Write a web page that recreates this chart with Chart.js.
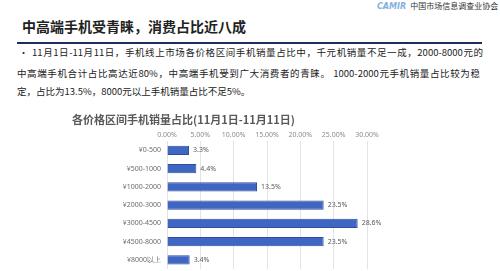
<!DOCTYPE html>
<html>
<head>
<meta charset="utf-8">
<script src="https://cdn.jsdelivr.net/npm/chart.js@4"></script>
<style>
    body { margin: 0; width: 500px; height: 271px; overflow: hidden; background: #fff; position: relative; font-family: "Noto Sans CJK SC", sans-serif; }
    .logo { position: absolute; top: 0; left: 377px; font-size: 8px; color: #333; white-space: nowrap; line-height: 12px; }
    .logo b { color: #7fb2e0; font-style: italic; font-weight: bold; margin-right: 4px; font-family: "DejaVu Sans", sans-serif; }
    .title { position: absolute; top: 16px; left: 22px; font-size: 14px; font-weight: bold; color: #222; line-height: 20px; }
    .rule { position: absolute; top: 42px; left: 17px; width: 465px; height: 2px; background: #1f2d5a; }
    .linea { position: absolute; font-size: 9.5px; line-height: 14px; color: #222; white-space: nowrap; text-align: justify; text-align-last: justify; }
    .dot { position: absolute; left: 19px; top: 46px; font-size: 9px; color: #222; }
    #miGrafico { position: absolute; left: 0; top: 108px; }
</style>
</head>
<body>
<div class="logo"><b>CAMIR</b>中国市场信息调查业协会</div>
<div class="title">中高端手机受青睐，消费占比近八成</div>
<div class="rule"></div>
<div class="dot">•</div>
<div class="linea" style="left:32px; top:45px; width:451px;">11月1日-11月11日，手机线上市场各价格区间手机销量占比中，千元机销量不足一成，2000-8000元的</div>
<div class="linea" style="left:17px; top:66px; width:463px;">中高端手机合计占比高达近80%，中高端手机受到广大消费者的青睐。 1000-2000元手机销量占比较为稳</div>
<div class="linea" style="left:17px; top:84px; text-align-last:left;">定，占比为13.5%，8000元以上手机销量占比不足5%。</div>
<canvas id="miGrafico" width="500" height="163"></canvas>
<script>
const rangos = ['¥0-500', '¥500-1000', '¥1000-2000', '¥2000-3000', '¥3000-4500', '¥4500-8000', '¥8000以上'];
const porcentajes = [3.3, 4.4, 13.5, 23.5, 28.6, 23.5, 3.4];
const tituloGrafico = '各价格区间手机销量占比(11月1日-11月11日)';

// etiquetas al final de cada barra
const etiquetas = {
    id: 'etiquetas',
    afterDatasetsDraw(chart) {
        const ctx = chart.ctx;
        const meta = chart.getDatasetMeta(0);
        ctx.save();
        ctx.font = '7px "Noto Sans", sans-serif';
        ctx.fillStyle = '#595959';
        ctx.textBaseline = 'middle';
        meta.data.forEach(function (bar, i) {
            ctx.fillText(porcentajes[i].toFixed(1) + '%', bar.x + 4, bar.y);
        });
        ctx.restore();
    }
};

window.onload = function () {
    const ctx = document.getElementById('miGrafico').getContext('2d');

    new Chart(ctx, {
        type: 'bar',
        data: {
            labels: rangos,
            datasets: [{
                data: porcentajes,
                backgroundColor: '#3f66c2',
                borderColor: '#2e4d9c',
                borderWidth: 1,
                barPercentage: 0.5,
                categoryPercentage: 1
            }]
        },
        plugins: [etiquetas],
        options: {
            indexAxis: 'y',
            responsive: false,
            animation: false,
            layout: { padding: { left: 0, right: 133, top: 0, bottom: 2 } },
            plugins: {
                legend: { display: false },
                tooltip: { enabled: false },
                title: {
                    display: true,
                    text: tituloGrafico,
                    color: '#595959',
                    font: { size: 11, weight: 'bold', family: '"Noto Sans CJK SC", sans-serif' },
                    padding: { top: 5, bottom: 2 }
                }
            },
            scales: {
                x: {
                    position: 'top',
                    min: 0,
                    max: 30,
                    ticks: {
                        stepSize: 5,
                        color: '#8c8c8c',
                        font: { size: 7, family: '"Noto Sans", sans-serif' },
                        padding: 2,
                        callback: function (v) { return v.toFixed(2) + '%'; }
                    },
                    grid: { color: '#e3e3e3', drawTicks: false },
                    border: { display: false },
                    afterFit: function (scale) { scale.height = 13; }
                },
                y: {
                    ticks: {
                        color: '#6b6b6b',
                        font: { size: 7, family: '"Noto Sans", sans-serif' },
                        padding: 6
                    },
                    grid: { display: false, drawTicks: false },
                    border: { display: false },
                    afterFit: function (scale) {
                        scale.width = 167;
                        scale.paddingTop = 0;
                        scale.paddingBottom = 0;
                    }
                }
            }
        }
    });
};
</script>
</body>
</html>
